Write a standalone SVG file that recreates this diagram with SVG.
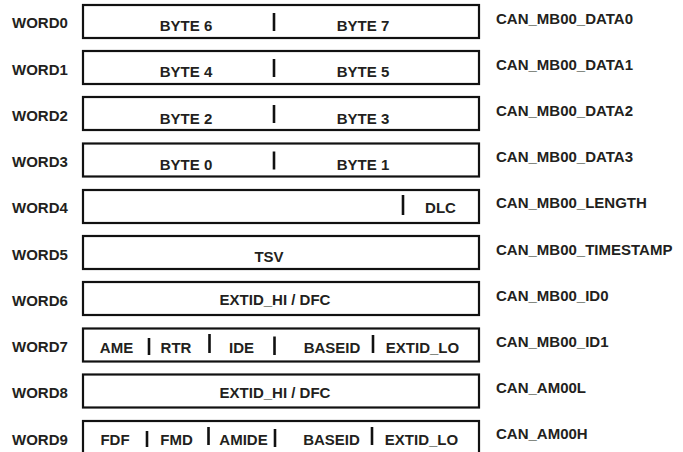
<svg xmlns="http://www.w3.org/2000/svg" width="683" height="452" viewBox="0 0 683 452">
<style>
  text { font-family: "Liberation Sans", Arial, sans-serif; font-weight: bold; font-size: 15px; fill: #231f20; }
  .c { text-anchor: middle; }
  .box { fill: #ffffff; stroke: #111111; stroke-width: 2.2; }
  .div { stroke: #111111; stroke-width: 2.6; }
</style>
<rect width="683" height="452" fill="#ffffff"/>

<g id="word0">
  <text x="12" y="28">WORD0</text>
  <rect class="box" x="83" y="5" width="396" height="33"/>
  <text class="c" x="186" y="31">BYTE 6</text>
  <line class="div" x1="274" y1="13" x2="274" y2="31"/>
  <text class="c" x="363" y="31">BYTE 7</text>
  <text x="496" y="23.5">CAN_MB00_DATA0</text>
</g>

<g id="word1">
  <text x="12" y="74.5">WORD1</text>
  <rect class="box" x="83" y="51" width="396" height="33"/>
  <text class="c" x="186" y="77">BYTE 4</text>
  <line class="div" x1="274" y1="59" x2="274" y2="77"/>
  <text class="c" x="363" y="77">BYTE 5</text>
  <text x="496" y="69.5">CAN_MB00_DATA1</text>
</g>

<g id="word2">
  <text x="12" y="121">WORD2</text>
  <rect class="box" x="83" y="97" width="396" height="33"/>
  <text class="c" x="186" y="123.5">BYTE 2</text>
  <line class="div" x1="274" y1="105" x2="274" y2="123"/>
  <text class="c" x="363" y="123.5">BYTE 3</text>
  <text x="496" y="115.5">CAN_MB00_DATA2</text>
</g>

<g id="word3">
  <text x="12" y="167">WORD3</text>
  <rect class="box" x="83" y="143.5" width="396" height="33"/>
  <text class="c" x="186" y="169.5">BYTE 0</text>
  <line class="div" x1="274" y1="151.5" x2="274" y2="169.5"/>
  <text class="c" x="363" y="169.5">BYTE 1</text>
  <text x="496" y="162">CAN_MB00_DATA3</text>
</g>

<g id="word4">
  <text x="12" y="213">WORD4</text>
  <rect class="box" x="83" y="190" width="396" height="33"/>
  <line class="div" x1="403" y1="195" x2="403" y2="215"/>
  <text class="c" x="440.5" y="212.5">DLC</text>
  <text x="496" y="208">CAN_MB00_LENGTH</text>
</g>

<g id="word5">
  <text x="12" y="259.5">WORD5</text>
  <rect class="box" x="83" y="236" width="396" height="33"/>
  <text class="c" x="269" y="261.5">TSV</text>
  <text x="496" y="254.5">CAN_MB00_TIMESTAMP</text>
</g>

<g id="word6">
  <text x="12" y="305.5">WORD6</text>
  <rect class="box" x="83" y="282" width="396" height="33"/>
  <text class="c" x="275" y="305">EXTID_HI / DFC</text>
  <text x="496" y="300.5">CAN_MB00_ID0</text>
</g>

<g id="word7">
  <text x="12" y="352">WORD7</text>
  <rect class="box" x="83" y="328.5" width="396" height="33"/>
  <text class="c" x="116.5" y="352.5">AME</text>
  <line class="div" x1="149" y1="338" x2="149" y2="355"/>
  <text class="c" x="176" y="352.5">RTR</text>
  <line class="div" x1="209.5" y1="334" x2="209.5" y2="353"/>
  <text class="c" x="241.5" y="352.5">IDE</text>
  <line class="div" x1="274.5" y1="336.5" x2="274.5" y2="355"/>
  <text class="c" x="332" y="352.5">BASEID</text>
  <line class="div" x1="373" y1="335" x2="373" y2="353"/>
  <text class="c" x="422.5" y="352.5">EXTID_LO</text>
  <text x="496" y="347">CAN_MB00_ID1</text>
</g>

<g id="word8">
  <text x="12" y="398">WORD8</text>
  <rect class="box" x="83" y="374.5" width="396" height="33"/>
  <text class="c" x="275" y="397.5">EXTID_HI / DFC</text>
  <text x="496" y="393">CAN_AM00L</text>
</g>

<g id="word9">
  <text x="12" y="444.5">WORD9</text>
  <rect class="box" x="83" y="421" width="396" height="33"/>
  <text class="c" x="115" y="445">FDF</text>
  <line class="div" x1="147" y1="431" x2="147" y2="447"/>
  <text class="c" x="176.5" y="445">FMD</text>
  <line class="div" x1="208.5" y1="427" x2="208.5" y2="445"/>
  <text class="c" x="243.5" y="445">AMIDE</text>
  <line class="div" x1="275" y1="429" x2="275" y2="447"/>
  <text class="c" x="331.5" y="445">BASEID</text>
  <line class="div" x1="372" y1="427" x2="372" y2="445"/>
  <text class="c" x="421.5" y="445">EXTID_LO</text>
  <text x="496" y="439">CAN_AM00H</text>
</g>

<g id="connectors"></g>
</svg>
